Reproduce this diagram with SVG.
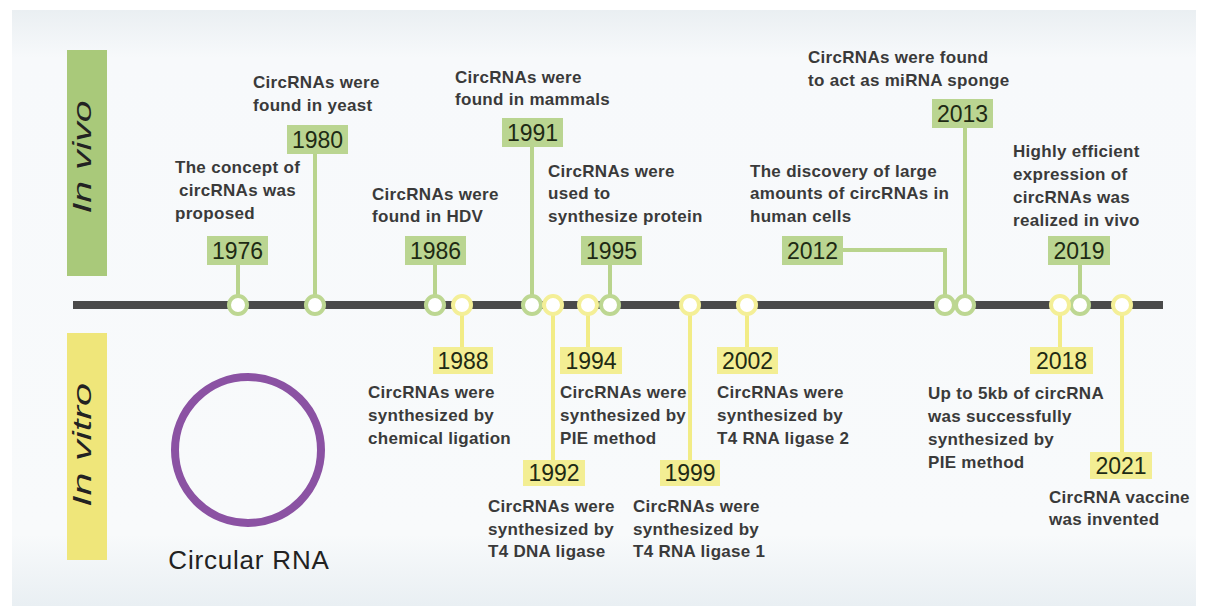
<svg xmlns="http://www.w3.org/2000/svg" width="1206" height="614" viewBox="0 0 1206 614">
  <defs>
    <linearGradient id="panelGrad" x1="0" y1="0" x2="0" y2="1">
      <stop offset="0" stop-color="#eaeff2"/>
      <stop offset="0.08" stop-color="#f7f9fb"/>
      <stop offset="0.88" stop-color="#f8fafb"/>
      <stop offset="1" stop-color="#e9eff3"/>
    </linearGradient>
    <style>
      .desc { font-family: "Liberation Sans", Arial, sans-serif; font-size: 17px; letter-spacing: 0.3px; font-weight: bold; fill: #3a3a3a; }
      .year { font-family: "Liberation Sans", Arial, sans-serif; font-size: 23px; fill: #1e2a14; text-anchor: middle; }
      .gbox { fill: #bad591; }
      .ybox { fill: #f3ee93; }
      .gline { fill: none; stroke: #b9d48d; stroke-width: 4; }
      .yline { fill: none; stroke: #f2ec86; stroke-width: 4; }
      .gdot { fill: #ffffff; stroke: #bdd792; stroke-width: 4; }
      .ydot { fill: #ffffff; stroke: #f4ef97; stroke-width: 4; }
      .side { font-family: "Liberation Sans", Arial, sans-serif; font-size: 26px; font-style: italic; fill: #222; text-anchor: middle; }
    </style>
  </defs>

  <rect width="1206" height="614" fill="#ffffff"/>
  <rect x="12" y="10" width="1184" height="596" fill="url(#panelGrad)"/>

  <!-- side labels -->
  <g id="in-vivo">
    <rect x="67" y="50" width="40" height="226" fill="#a9c97a"/>
    <text class="side" transform="translate(91,157) rotate(-90)" textLength="113" lengthAdjust="spacingAndGlyphs">In vivo</text>
  </g>
  <g id="in-vitro">
    <rect x="67" y="333" width="40" height="227" fill="#efe67a"/>
    <text class="side" transform="translate(91,445) rotate(-90)" textLength="124" lengthAdjust="spacingAndGlyphs">In vitro</text>
  </g>

  <g id="circular-rna">
    <circle cx="248" cy="450" r="73" fill="none" stroke="#8b52a3" stroke-width="8"/>
    <text x="249" y="569" font-family="'Liberation Sans', Arial, sans-serif" font-size="26" letter-spacing="0.8" fill="#222" text-anchor="middle">Circular RNA</text>
  </g>

  <!-- axis and leader lines -->
  <g id="connectors">
    <line x1="73" y1="305" x2="1163" y2="305" stroke="#4a4a4a" stroke-width="8"/>
    <line class="gline" x1="238" y1="265" x2="238" y2="305"/>
    <line class="gline" x1="315" y1="153" x2="315" y2="305"/>
    <line class="gline" x1="435" y1="265" x2="435" y2="305"/>
    <line class="gline" x1="532" y1="147" x2="532" y2="305"/>
    <line class="gline" x1="610" y1="265" x2="610" y2="305"/>
    <polyline class="gline" points="843,250 945,250 945,305"/>
    <line class="gline" x1="965" y1="128" x2="965" y2="305"/>
    <line class="gline" x1="1080" y1="265" x2="1080" y2="305"/>
    <line class="yline" x1="462" y1="305" x2="462" y2="347"/>
    <line class="yline" x1="553" y1="305" x2="553" y2="460"/>
    <line class="yline" x1="588" y1="305" x2="588" y2="347"/>
    <line class="yline" x1="690" y1="305" x2="690" y2="460"/>
    <line class="yline" x1="747" y1="305" x2="747" y2="347"/>
    <line class="yline" x1="1060" y1="305" x2="1060" y2="347"/>
    <line class="yline" x1="1122" y1="305" x2="1122" y2="452"/>
  </g>

  <!-- in vivo events -->
  <g id="e1976">
    <circle class="gdot" cx="238" cy="305" r="9"/>
    <rect class="gbox" x="207" y="236" width="61" height="29"/>
    <text class="year" x="237.5" y="259">1976</text>
    <text class="desc"><tspan x="175" y="173">The concept of</tspan><tspan x="179" y="196">circRNAs was</tspan><tspan x="175" y="219">proposed</tspan></text>
  </g>
  <g id="e1980">
    <circle class="gdot" cx="315" cy="305" r="9"/>
    <rect class="gbox" x="287" y="125" width="61" height="29"/>
    <text class="year" x="317.5" y="148">1980</text>
    <text class="desc"><tspan x="253" y="88">CircRNAs were</tspan><tspan x="253" y="111">found in yeast</tspan></text>
  </g>
  <g id="e1986">
    <circle class="gdot" cx="435" cy="305" r="9"/>
    <rect class="gbox" x="405" y="236" width="61" height="29"/>
    <text class="year" x="435.5" y="259">1986</text>
    <text class="desc"><tspan x="372" y="200">CircRNAs were</tspan><tspan x="372" y="222">found in HDV</tspan></text>
  </g>
  <g id="e1991">
    <circle class="gdot" cx="532" cy="305" r="9"/>
    <rect class="gbox" x="502" y="118" width="61" height="29"/>
    <text class="year" x="532.5" y="141">1991</text>
    <text class="desc"><tspan x="455" y="83">CircRNAs were</tspan><tspan x="455" y="105">found in mammals</tspan></text>
  </g>
  <g id="e1995">
    <circle class="gdot" cx="610" cy="305" r="9"/>
    <rect class="gbox" x="581" y="236" width="61" height="29"/>
    <text class="year" x="611.5" y="259">1995</text>
    <text class="desc"><tspan x="548" y="177">CircRNAs were</tspan><tspan x="548" y="199">used to</tspan><tspan x="548" y="222">synthesize protein</tspan></text>
  </g>
  <g id="e2012">
    <circle class="gdot" cx="945" cy="305" r="9"/>
    <rect class="gbox" x="782" y="236" width="61" height="29"/>
    <text class="year" x="812.5" y="259">2012</text>
    <text class="desc"><tspan x="750" y="177">The discovery of large</tspan><tspan x="750" y="199">amounts of circRNAs in</tspan><tspan x="750" y="222">human cells</tspan></text>
  </g>
  <g id="e2013">
    <circle class="gdot" cx="965" cy="305" r="9"/>
    <rect class="gbox" x="932" y="99" width="61" height="29"/>
    <text class="year" x="962.5" y="122">2013</text>
    <text class="desc"><tspan x="808" y="63">CircRNAs were found</tspan><tspan x="808" y="86">to act as miRNA sponge</tspan></text>
  </g>
  <g id="e2019">
    <circle class="gdot" cx="1080" cy="305" r="9"/>
    <rect class="gbox" x="1048" y="236" width="62" height="29"/>
    <text class="year" x="1079" y="259">2019</text>
    <text class="desc"><tspan x="1013" y="157">Highly efficient</tspan><tspan x="1013" y="180">expression of</tspan><tspan x="1013" y="203">circRNAs was</tspan><tspan x="1013" y="226">realized in vivo</tspan></text>
  </g>

  <!-- in vitro events -->
  <g id="e1988">
    <circle class="ydot" cx="462" cy="305" r="9"/>
    <rect class="ybox" x="433" y="347" width="60" height="27"/>
    <text class="year" x="463" y="369">1988</text>
    <text class="desc"><tspan x="368" y="398">CircRNAs were</tspan><tspan x="368" y="421">synthesized by</tspan><tspan x="368" y="444">chemical ligation</tspan></text>
  </g>
  <g id="e1992">
    <circle class="ydot" cx="553" cy="305" r="9"/>
    <rect class="ybox" x="523" y="460" width="62" height="26"/>
    <text class="year" x="554" y="481">1992</text>
    <text class="desc"><tspan x="488" y="512">CircRNAs were</tspan><tspan x="488" y="535">synthesized by</tspan><tspan x="488" y="557">T4 DNA ligase</tspan></text>
  </g>
  <g id="e1994">
    <circle class="ydot" cx="588" cy="305" r="9"/>
    <rect class="ybox" x="560" y="347" width="62" height="27"/>
    <text class="year" x="591" y="369">1994</text>
    <text class="desc"><tspan x="560" y="398">CircRNAs were</tspan><tspan x="560" y="421">synthesized by</tspan><tspan x="560" y="444">PIE method</tspan></text>
  </g>
  <g id="e1999">
    <circle class="ydot" cx="690" cy="305" r="9"/>
    <rect class="ybox" x="660" y="460" width="60" height="26"/>
    <text class="year" x="690" y="481">1999</text>
    <text class="desc"><tspan x="633" y="512">CircRNAs were</tspan><tspan x="633" y="535">synthesized by</tspan><tspan x="633" y="557">T4 RNA ligase 1</tspan></text>
  </g>
  <g id="e2002">
    <circle class="ydot" cx="747" cy="305" r="9"/>
    <rect class="ybox" x="717" y="347" width="61" height="27"/>
    <text class="year" x="747.5" y="369">2002</text>
    <text class="desc"><tspan x="717" y="398">CircRNAs were</tspan><tspan x="717" y="421">synthesized by</tspan><tspan x="717" y="444">T4 RNA ligase 2</tspan></text>
  </g>
  <g id="e2018">
    <circle class="ydot" cx="1060" cy="305" r="9"/>
    <rect class="ybox" x="1030" y="347" width="63" height="27"/>
    <text class="year" x="1061.5" y="369">2018</text>
    <text class="desc"><tspan x="928" y="399">Up to 5kb of circRNA</tspan><tspan x="928" y="422">was successfully</tspan><tspan x="928" y="445">synthesized by</tspan><tspan x="928" y="468">PIE method</tspan></text>
  </g>
  <g id="e2021">
    <circle class="ydot" cx="1122" cy="305" r="9"/>
    <rect class="ybox" x="1090" y="452" width="62" height="27"/>
    <text class="year" x="1121" y="474">2021</text>
    <text class="desc"><tspan x="1049" y="503">CircRNA vaccine</tspan><tspan x="1049" y="525">was invented</tspan></text>
  </g>
</svg>
